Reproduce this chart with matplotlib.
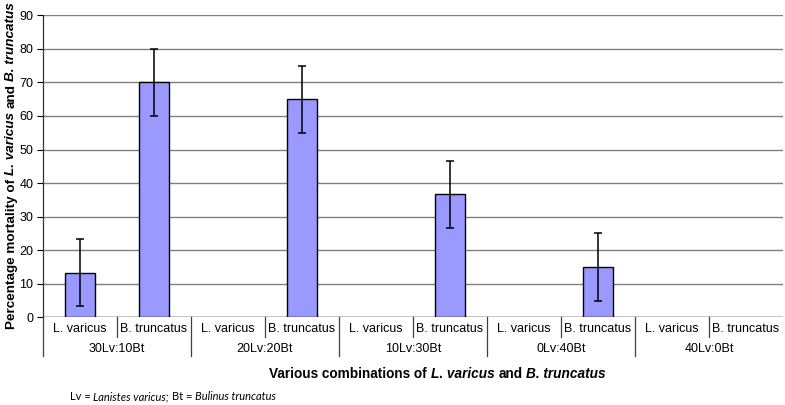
import matplotlib
matplotlib.use("Agg")
import matplotlib.pyplot as plt
from matplotlib.lines import Line2D
import numpy as np

# ---------------- data ----------------
groups = ["30Lv:10Bt", "20Lv:20Bt", "10Lv:30Bt", "0Lv:40Bt", "40Lv:0Bt"]
species = ["L. varicus", "B. truncatus"]
lv_mortality = [13.3, 0, 0, 0, 0]
lv_error = [10, 0, 0, 0, 0]
bt_mortality = [70, 65, 36.7, 15, 0]
bt_error = [10, 10, 10, 10, 0]
yticks = [0, 10, 20, 30, 40, 50, 60, 70, 80, 90]

# ---------------- figure ----------------
W, H = 785, 405
DPI = 100
plt.rcParams['font.family'] = ['Liberation Sans', 'DejaVu Sans']
fig = plt.figure(figsize=(W / DPI, H / DPI), dpi=DPI)

ax_l, ax_r, ax_t, ax_b = 43, 783, 15.3, 317.3
ax = fig.add_axes([ax_l / W, 1 - ax_b / H, (ax_r - ax_l) / W, (ax_b - ax_t) / H])

n_groups = len(groups)
n_cat = n_groups * len(species)
values = []
errors = []
for i in range(n_groups):
    values += [lv_mortality[i], bt_mortality[i]]
    errors += [lv_error[i], bt_error[i]]
values = np.array(values, dtype=float)
errors = np.array(errors, dtype=float)
x = np.arange(n_cat) + 0.5

ax.set_xlim(0, n_cat)
ax.set_ylim(0, 90)

mask = values > 0
ax.bar(x[mask], values[mask], width=0.41, color='#9999FF', edgecolor='black', linewidth=1.0, zorder=3)
ax.errorbar(x[mask], values[mask], yerr=errors[mask], fmt='none', ecolor='black',
            elinewidth=1.1, capsize=3, capthick=1.1, zorder=4)

TS = 9
ax.set_yticks(yticks)
ax.set_yticklabels([str(t) for t in yticks], fontsize=TS)
ax.tick_params(axis='y', length=4, width=0.8, pad=3, colors='black')
ax.set_xticks([])
ax.yaxis.grid(True, color='#808080', linewidth=1.0, zorder=0)
ax.set_axisbelow(True)
for s in ['top', 'right', 'bottom']:
    ax.spines[s].set_visible(False)
ax.spines['left'].set_color('#333333')
ax.spines['left'].set_linewidth(0.9)
ax.axhline(0, color='#404040', linewidth=1.0, zorder=2)

# ---------------- category table under the axis ----------------
def fy(ypx):
    return 1 - ypx / H

def fx_data(xd):
    return (ax_l + (ax_r - ax_l) * xd / n_cat) / W

line_col = '#404040'
for i in range(n_cat):
    fig.text(fx_data(x[i]), fy(329), species[i % 2], ha='center', va='center', fontsize=TS)
for i in range(1, n_cat, 2):
    fig.add_artist(Line2D([fx_data(i), fx_data(i)], [fy(ax_b), fy(337)], color=line_col, linewidth=0.9))
for g in range(n_groups):
    fig.text(fx_data(2 * g + 1), fy(348.5), groups[g], ha='center', va='center', fontsize=TS)
for g in range(n_groups):
    xx = fx_data(2 * g)
    fig.add_artist(Line2D([xx, xx], [fy(ax_b), fy(356)], color=line_col, linewidth=0.9))

# ---------------- mixed style text helper ----------------
renderer = fig.canvas.get_renderer()

def measure(txt, **kw):
    t = fig.text(0, 0, txt, **kw)
    w = t.get_window_extent(renderer).width
    t.remove()
    return w

def draw_pieces(pieces, xc, yc, size, family, rotation=0, center=True, space_em=0.278):
    widths = [measure(p[0], fontsize=size, fontweight=p[1], fontstyle=p[2], family=family) for p in pieces]
    space = space_em * size * DPI / 72.0
    total = sum(widths) + space * (len(pieces) - 1)
    pos = -total / 2 if center else 0
    for (txt, wgt, sty), w in zip(pieces, widths):
        if rotation == 0:
            fig.text((xc + pos) / W, fy(yc), txt, fontsize=size, fontweight=wgt, fontstyle=sty,
                     family=family, ha='left', va='baseline')
        else:
            fig.text(xc / W, fy(yc - pos), txt, fontsize=size, fontweight=wgt, fontstyle=sty,
                     family=family, ha='left', va='baseline', rotation=90, rotation_mode='anchor')
        pos += w + space

lab = ['Liberation Sans', 'DejaVu Sans']
xlabel_pieces = [("Various combinations of", 'bold', 'normal'),
                 ("L. varicus", 'bold', 'italic'),
                 ("and", 'bold', 'normal'),
                 ("B. truncatus", 'bold', 'italic')]
draw_pieces(xlabel_pieces, 437.5, 377.5, 9.8, lab)

ylabel_pieces = [("Percentage mortality of", 'bold', 'normal'),
                 ("L. varicus", 'bold', 'italic'),
                 ("and", 'bold', 'normal'),
                 ("B. truncatus", 'bold', 'italic')]
draw_pieces(ylabel_pieces, 14.5, 165.5, 9.7, lab, rotation=90)

foot = ['Lato', 'DejaVu Sans']
foot_pieces = [("Lv =", 'normal', 'normal'),
               ("Lanistes varicus;", 'normal', 'italic'),
               ("Bt =", 'normal', 'normal'),
               ("Bulinus truncatus", 'normal', 'italic')]
draw_pieces(foot_pieces, 70, 400, 8, foot, center=False, space_em=0.23)

fig.savefig("out.png", dpi=DPI)
